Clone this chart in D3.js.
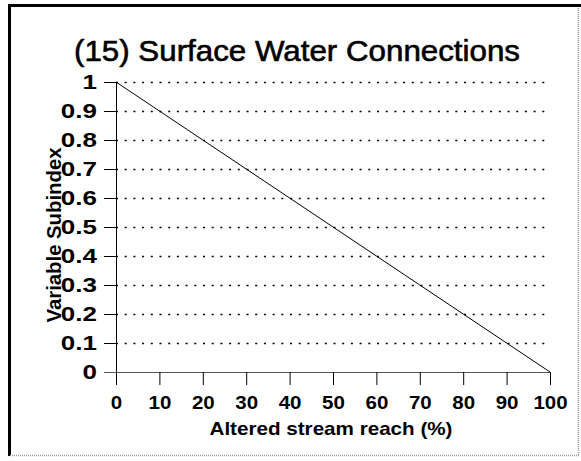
<!DOCTYPE html>
<html>
<head>
<meta charset="utf-8">
<script src="https://cdn.jsdelivr.net/npm/d3@7"></script>
<style>
  body { margin: 0; background: #fff; }
  svg text { font-family: Arial, "Liberation Sans", sans-serif; fill: #000; }
</style>
</head>
<body>
<div id="chart"></div>
<script>
// Data
const titleText = "(15) Surface Water Connections";
const xLabel = "Altered stream reach (%)";
const yLabel = "Variable Subindex";
const altered = [0, 100];
const subindex = [1, 0];
const xTicks = [0, 10, 20, 30, 40, 50, 60, 70, 80, 90, 100];
const yTicks = [0, 0.1, 0.2, 0.3, 0.4, 0.5, 0.6, 0.7, 0.8, 0.9, 1];

const W = 581, H = 461;
const margin = {top: 82, right: 31, bottom: 89, left: 116};
const width = W - margin.left - margin.right,
  height = H - margin.top - margin.bottom;

const svg = d3.select("#chart").append("svg")
  .attr("width", W)
  .attr("height", H);

// frame (scanned border)
svg.append("line").attr("x1", 9.5).attr("x2", 9.5).attr("y1", 5).attr("y2", 456)
  .attr("stroke", "#000").attr("stroke-width", 3);
svg.append("line").attr("x1", 8).attr("x2", 581).attr("y1", 5.5).attr("y2", 5.5)
  .attr("stroke", "#000").attr("stroke-width", 3);
svg.append("line").attr("x1", 578.5).attr("x2", 578.5).attr("y1", 8).attr("y2", 456)
  .attr("stroke", "#999").attr("stroke-width", 1.5).attr("stroke-dasharray", "1,1");
svg.append("line").attr("x1", 10).attr("x2", 579).attr("y1", 455.5).attr("y2", 455.5)
  .attr("stroke", "#999").attr("stroke-width", 1.5).attr("stroke-dasharray", "1,1");

const g = svg.append("g")
  .attr("transform", "translate(" + margin.left + "," + margin.top + ")");

const x = d3.scaleLinear().domain([0, 100]).range([0, width]);
const y = d3.scaleLinear().domain([0, 1]).range([height, 0]);

// dotted grid
g.selectAll(".grid")
  .data(yTicks.filter(function(d) { return d > 0; }))
  .enter().append("line")
  .attr("class", "grid")
  .attr("x1", 0).attr("x2", width)
  .attr("y1", function(d) { return Math.round(y(d)) + 0.5; })
  .attr("y2", function(d) { return Math.round(y(d)) + 0.5; })
  .attr("stroke", "#000")
  .attr("stroke-width", 1.3)
  .attr("stroke-dasharray", "2,6.7");

// stretch a label sideways (the scan is wider than tall)
function widen(sel, k) {
  sel.each(function() {
    const len = this.getComputedTextLength();
    d3.select(this).attr("textLength", len * k).attr("lengthAdjust", "spacingAndGlyphs");
  });
}

// y axis
const yAxis = g.append("g")
  .call(d3.axisLeft(y).tickValues(yTicks).tickSize(12).tickPadding(7)
    .tickFormat(function(d) { return d === 0 || d === 1 ? d3.format("d")(d) : d3.format(".1f")(d); }));
yAxis.select(".domain").attr("stroke", "#000").attr("d", "M0.5," + height + "V0");
yAxis.selectAll(".tick line").attr("stroke", "#000");
yAxis.selectAll("text")
  .style("font-size", "20px").style("font-weight", "bold").attr("fill", "#000")
  .call(widen, 1.3);

// x axis
const xAxis = g.append("g")
  .attr("transform", "translate(0," + height + ")")
  .call(d3.axisBottom(x).tickValues(xTicks).tickSize(13).tickPadding(11));
xAxis.select(".domain").attr("stroke", "#555").attr("d", "M-12,0.5H" + width);
xAxis.selectAll(".tick line").attr("stroke", "#000");
xAxis.selectAll("text")
  .style("font-size", "19px").style("font-weight", "bold").attr("fill", "#000")
  .call(widen, 1.08);

// line
const line = d3.line()
  .x(function(d, i) { return x(altered[i]); })
  .y(function(d) { return y(d); });
g.append("path")
  .datum(subindex)
  .attr("d", line)
  .attr("fill", "none")
  .attr("stroke", "#000")
  .attr("stroke-width", 1);

// title
svg.append("text")
  .attr("x", 297).attr("y", 61)
  .attr("text-anchor", "middle")
  .attr("textLength", 446).attr("lengthAdjust", "spacingAndGlyphs")
  .attr("stroke", "#000").attr("stroke-width", 0.6)
  .style("font-size", "29px")
  .text(titleText);

// axis labels
svg.append("text")
  .attr("x", margin.left + width / 2 - 2).attr("y", 435)
  .attr("text-anchor", "middle")
  .attr("textLength", 243).attr("lengthAdjust", "spacingAndGlyphs")
  .style("font-size", "19px").style("font-weight", "bold")
  .text(xLabel);

svg.append("text")
  .attr("transform", "translate(61,235) rotate(-90)")
  .attr("text-anchor", "middle")
  .attr("textLength", 175).attr("lengthAdjust", "spacingAndGlyphs")
  .style("font-size", "21px").style("font-weight", "bold")
  .text(yLabel);
</script>
</body>
</html>
